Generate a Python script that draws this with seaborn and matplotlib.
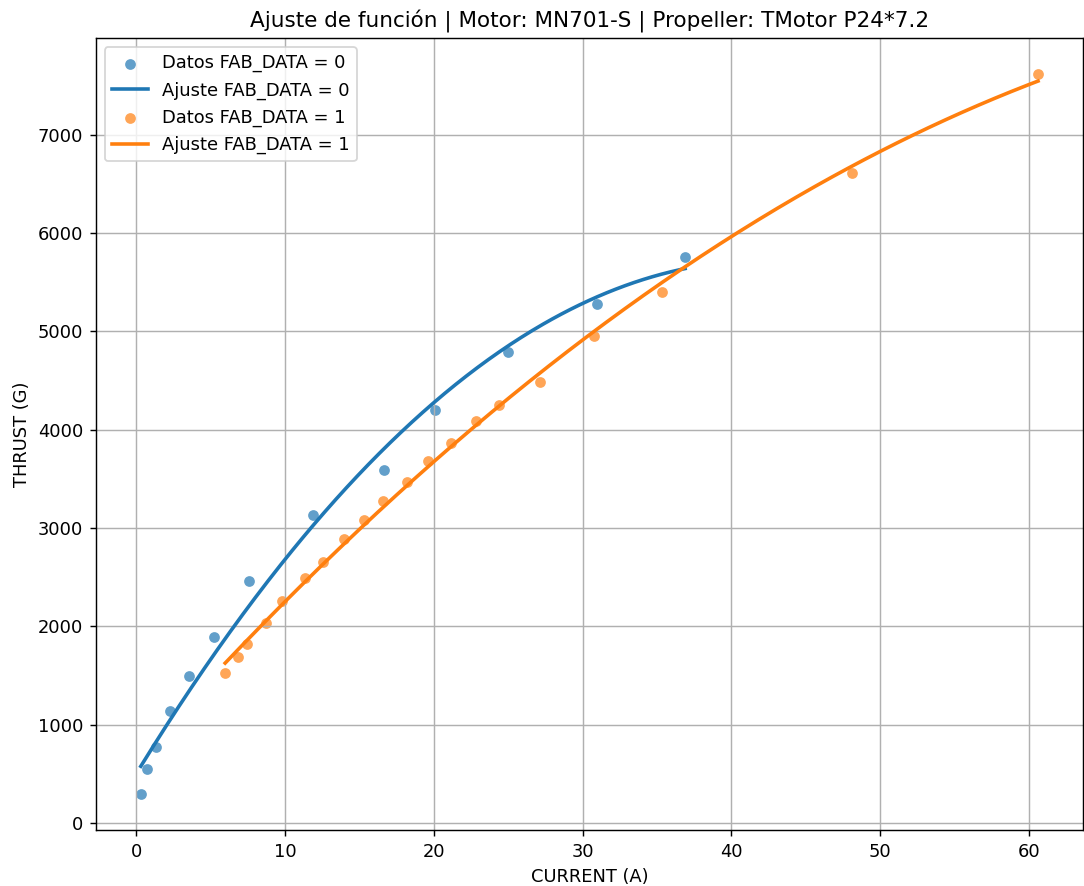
import numpy as np
import pandas as pd
import matplotlib
matplotlib.use("Agg")
import matplotlib.pyplot as plt
import seaborn as sns

# Measured current (A) and thrust (g) for each data source
current_0 = [0.31, 0.75, 1.35, 2.27, 3.53, 5.26, 7.59, 11.88, 16.68, 20.07, 24.98, 30.96, 36.89]
thrust_0 = [292, 549, 776, 1139, 1495, 1889, 2462, 3133, 3591, 4201, 4788, 5277, 5761]

current_1 = [5.98, 6.86, 7.46, 8.71, 9.81, 11.37, 12.57, 13.97, 15.30, 16.58, 18.21,
             19.59, 21.19, 22.85, 24.36, 27.14, 30.80, 35.33, 48.10, 60.61]
thrust_1 = [1523, 1692, 1821, 2032, 2258, 2489, 2658, 2891, 3079, 3278, 3467,
            3683, 3863, 4093, 4255, 4489, 4957, 5405, 6609, 7617]

groups = [0, 1]
colors = ["#1f77b4", "#ff7f0e"]
title = "Ajuste de función | Motor: MN701-S | Propeller: TMotor P24*7.2"

DPI = 129
fig, ax = plt.subplots(figsize=(1084 / DPI, 886 / DPI), dpi=DPI)
fig.subplots_adjust(left=0.0885, right=0.999, top=0.957, bottom=0.063)

for g, xs, ys, c in zip(groups, [current_0, current_1], [thrust_0, thrust_1], colors):
    df = pd.DataFrame({"x": xs, "y": ys})
    sns.scatterplot(data=df, x="x", y="y", ax=ax, color=c, alpha=0.7, s=36,
                    linewidth=0, label=f"Datos FAB_DATA = {g}")
    coef = np.polyfit(xs, ys, 2)
    xf = np.linspace(min(xs), max(xs), 300)
    fit = pd.DataFrame({"x": xf, "y": np.polyval(coef, xf)})
    sns.lineplot(data=fit, x="x", y="y", ax=ax, color=c, linewidth=2,
                 label=f"Ajuste FAB_DATA = {g}")

ax.set_title(title, fontsize=12)
ax.set_xlabel("CURRENT (A)")
ax.set_ylabel("THRUST (G)")
ax.grid(True)
ax.legend(loc="upper left")

fig.savefig("out.png", dpi=DPI)
